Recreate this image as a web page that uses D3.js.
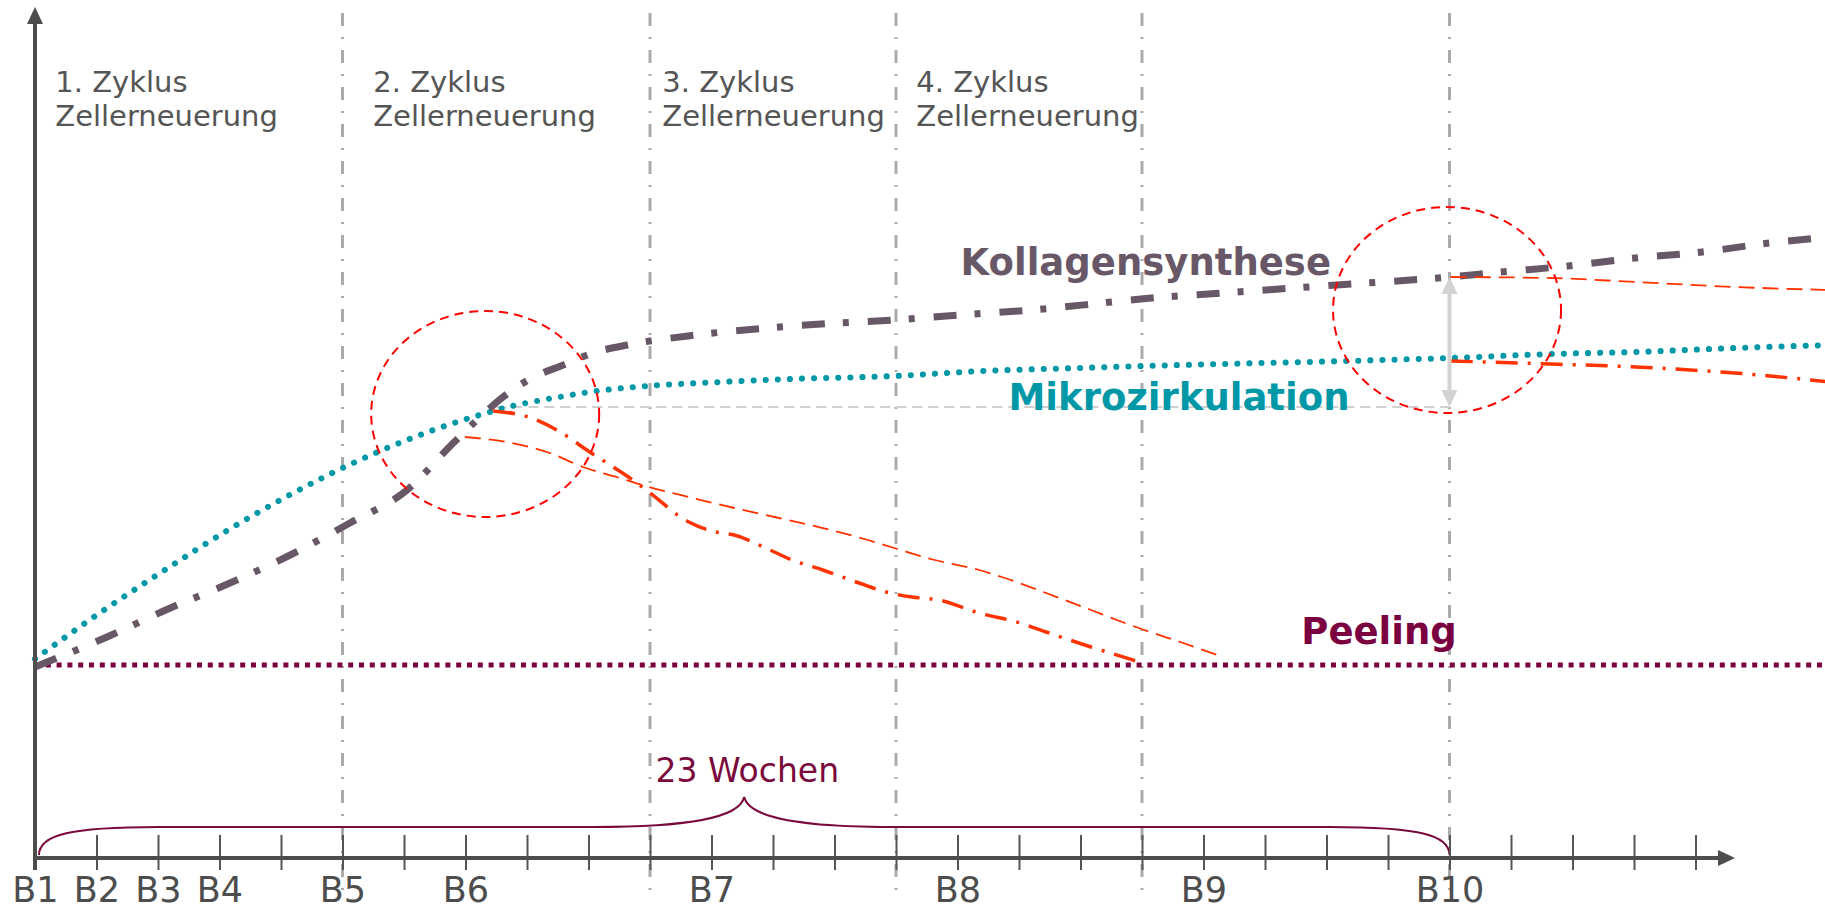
<!DOCTYPE html>
<meta charset="utf-8">

<!-- Load d3.js -->
<script src="https://d3js.org/d3.v7.min.js"></script>

<style>
  body { margin: 0; background: #fff; }
  svg { display: block; font-family: "DejaVu Sans", Verdana, sans-serif; }
</style>

<div id="my_dataviz"></div>

<script>

// x axis: one tick per week, B-labels at the treatment weeks
var tickWeeks = d3.range(0, 28);
var tickLabels = ["B1", "B2", "B3", "B4", "B5", "B6", "B7", "B8", "B9", "B10"];
var tickLabelWeeks = [0, 1, 2, 3, 5, 7, 11, 15, 19, 23];

// cell renewal cycles
var cycleWeeks = [5, 10, 14, 18, 23];
var cycleNames = ["1. Zyklus", "2. Zyklus", "3. Zyklus", "4. Zyklus"];
var cycleNameWeeks = [0.33, 5.5, 10.2, 14.33];

// series as [week, level]
var mikrozirkulation = [
  [0, 1.5], [1.1, 13.5], [2.11, 23.75], [3.14, 33.75], [4.2, 43], [5.28, 51.25],
  [6.39, 58.25], [7.17, 62.25], [7.76, 64.75], [8.34, 66.5], [9.14, 68.5],
  [9.97, 69.75], [11.14, 70.75], [12.29, 71.5], [13.97, 72.25], [15.41, 73.5],
  [16.96, 74.25], [18.02, 74.75], [19.3, 75.25], [21.32, 76], [23.02, 76.75],
  [24.65, 77.75], [26.02, 78.25], [27.64, 79.25], [29.2, 80]
];
var kollagensynthese = [
  [0, -0.5], [1.17, 7], [2.2, 14.25], [3.17, 20.5], [4.15, 27.5], [5.12, 35.5],
  [6.05, 43.75], [6.8, 55.5], [7.24, 62], [7.61, 67], [8.08, 71.75], [8.59, 75],
  [9.07, 78], [9.63, 80], [10.75, 82.5], [11.9, 84.25], [13.07, 85.5],
  [13.97, 86.25], [15.02, 87.5], [16.2, 88.75], [17.35, 90.5], [17.98, 91.5],
  [19.3, 93], [20.47, 94.25], [21.17, 95], [23, 97], [23.84, 98.25],
  [24.93, 99.75], [26.02, 101.75], [27.11, 103.25], [28.2, 105.5], [29.2, 107]
];
var peeling = [[0, 0], [29.2, 0]];

// decline when treatment stops after the 2nd cycle
var stopMikro = [
  [7.45, 63.5], [8.02, 62], [8.54, 58.25], [9.02, 53.25], [9.35, 50], [9.72, 46.25],
  [9.98, 43.25], [10.63, 35.75], [11.07, 33.25], [11.37, 32.5], [11.95, 28.75],
  [12.31, 26.25], [12.81, 23.75], [13.4, 20.5], [13.84, 18.25], [14.26, 17],
  [14.7, 16.25], [15.35, 13], [16.02, 10.5], [16.44, 8.25], [17.17, 4.5],
  [17.9, 1], [18, 0.5]
];
var stopKollagen = [
  [6.99, 57], [7.67, 55.75], [8.37, 53], [8.91, 49.5], [9.46, 47], [9.92, 44.75],
  [10.63, 42], [11.37, 39.25], [12.1, 36.75], [12.81, 34.25], [13.54, 31.25],
  [13.97, 29.25], [14.63, 26.25], [15.35, 23.75], [15.72, 22], [16.44, 18],
  [17.17, 13.75], [17.9, 9.5], [18.62, 5.75], [19.32, 2]
];
// slow decline after B10
var afterKollagen = [[23.02, 97], [24.65, 96.75], [26.02, 95.75], [27.64, 94.5], [29.2, 93.75]];
var afterMikro = [[23.02, 76], [24.65, 75.25], [26.02, 74.5], [27.64, 73], [29.2, 70.75]];

// markers
var plateau = [[7.5, 64.5], [23, 64.5]];
var gainArrow = [23, 64.5, 97];
var focusCircles = [[7.32, 62.75], [22.96, 88.75]];
var braceWeeks = [0, 23];
var braceText = "23 Wochen";

var seriesLabels = ["Kollagensynthese", "Mikrozirkulation", "Peeling"];
var seriesLabelPos = [[15.05, 97.5], [15.83, 63.75], [20.59, 5.25]];


var width = 1825, height = 911;

var svg = d3.select("#my_dataviz")
  .append("svg")
    .attr("width", width)
    .attr("height", height);

var x = d3.scaleLinear().domain([0, 27]).range([35, 1695.5]);
var y = d3.scaleLinear().domain([0, 100]).range([665, 265]);

var line = d3.line()
  .x(function(d) { return x(d[0]); })
  .y(function(d) { return y(d[1]); })
  .curve(d3.curveMonotoneX);

// cycle separators
svg.selectAll(".cycle")
  .data(cycleWeeks)
  .enter()
  .append("line")
    .attr("x1", function(d) { return x(d); })
    .attr("x2", function(d) { return x(d); })
    .attr("y1", 13)
    .attr("y2", 890)
    .attr("stroke", "#aaaaaa")
    .attr("stroke-width", 3)
    .attr("stroke-dasharray", "13,11,2,11");

// cycle names
var cyc = svg.selectAll(".cycname")
  .data(cycleNames)
  .enter()
  .append("text")
    .attr("x", function(d, i) { return x(cycleNameWeeks[i]); })
    .attr("y", 92)
    .attr("font-size", 29)
    .attr("fill", "#555555");
cyc.append("tspan").text(function(d) { return d; });
cyc.append("tspan")
  .attr("x", function(d, i) { return x(cycleNameWeeks[i]); })
  .attr("dy", 34)
  .text("Zellerneuerung");

// level reached after the 2nd cycle
svg.append("path")
  .attr("d", line(plateau))
  .attr("fill", "none")
  .attr("stroke", "#cfcfcf")
  .attr("stroke-width", 2)
  .attr("stroke-dasharray", "10,6");

// Peeling
svg.append("path")
  .attr("d", line(peeling))
  .attr("fill", "none")
  .attr("stroke", "#7b003f")
  .attr("stroke-width", 5)
  .attr("stroke-dasharray", "5,5.8");

// Mikrozirkulation
svg.append("path")
  .attr("d", line(mikrozirkulation))
  .attr("fill", "none")
  .attr("stroke", "#0097a7")
  .attr("stroke-width", 6)
  .attr("stroke-linecap", "round")
  .attr("stroke-dasharray", "0.1,12");

// Kollagensynthese
svg.append("path")
  .attr("d", line(kollagensynthese))
  .attr("fill", "none")
  .attr("stroke", "#685867")
  .attr("stroke-width", 7)
  .attr("stroke-dasharray", "23,18,6,19");

// decline curves
[stopMikro, afterMikro].forEach(function(s) {
  svg.append("path")
    .attr("d", line(s))
    .attr("fill", "none")
    .attr("stroke", "#ff3300")
    .attr("stroke-width", 3.5)
    .attr("stroke-dasharray", "22,10,3,10");
});
[stopKollagen, afterKollagen].forEach(function(s) {
  svg.append("path")
    .attr("d", line(s))
    .attr("fill", "none")
    .attr("stroke", "#ff3300")
    .attr("stroke-width", 1.8)
    .attr("stroke-dasharray", "16,8");
});

// circles
svg.selectAll(".focus")
  .data(focusCircles)
  .enter()
  .append("ellipse")
    .attr("cx", function(d) { return x(d[0]); })
    .attr("cy", function(d) { return y(d[1]); })
    .attr("rx", 114)
    .attr("ry", 103)
    .attr("fill", "none")
    .attr("stroke", "#ff0000")
    .attr("stroke-width", 2)
    .attr("stroke-dasharray", "9,6");

// gain arrow at B10
var ax = x(gainArrow[0]), aLow = y(gainArrow[1]), aHigh = y(gainArrow[2]);
svg.append("line")
  .attr("x1", ax).attr("x2", ax)
  .attr("y1", aHigh + 12).attr("y2", aLow - 12)
  .attr("stroke", "#d3d3d3")
  .attr("stroke-width", 4);
svg.append("path")
  .attr("d", "M" + ax + "," + aHigh + "l-8,17h16z M" + ax + "," + aLow + "l-8,-17h16z")
  .attr("fill", "#d3d3d3");

// series labels
var labelColors = ["#685867", "#0097a7", "#7b003f"];
svg.selectAll(".slabel")
  .data(seriesLabels)
  .enter()
  .append("text")
    .attr("x", function(d, i) { return x(seriesLabelPos[i][0]); })
    .attr("y", function(d, i) { return y(seriesLabelPos[i][1]); })
    .attr("font-size", 37)
    .attr("font-weight", "bold")
    .attr("fill", function(d, i) { return labelColors[i]; })
    .text(function(d) { return d; });

// brace
var b0 = x(braceWeeks[0]) + 4, b1 = x(braceWeeks[1]), bm = (b0 + b1) / 2;
var yb = 855, yl = 827, yt = 797;
svg.append("path")
  .attr("d",
    "M" + b0 + "," + yb +
    "C" + b0 + ",835 " + (b0 + 30) + "," + yl + " " + (b0 + 120) + "," + yl +
    "L" + (bm - 150) + "," + yl +
    "C" + (bm - 60) + "," + yl + " " + (bm - 5) + "," + (yl - 8) + " " + bm + "," + yt +
    "C" + (bm + 5) + "," + (yl - 8) + " " + (bm + 60) + "," + yl + " " + (bm + 150) + "," + yl +
    "L" + (b1 - 120) + "," + yl +
    "C" + (b1 - 30) + "," + yl + " " + b1 + ",835 " + b1 + "," + yb)
  .attr("fill", "none")
  .attr("stroke", "#7a0a3c")
  .attr("stroke-width", 2);
svg.append("text")
  .attr("x", bm + 3)
  .attr("y", 782)
  .attr("text-anchor", "middle")
  .attr("font-size", 33)
  .attr("fill", "#7a0a3c")
  .text(braceText);

// ticks
svg.append("g")
  .attr("transform", "translate(0,835)")
  .call(d3.axisBottom(x).tickValues(tickWeeks).tickSize(35).tickSizeOuter(0).tickFormat(""))
  .call(function(g) { g.select(".domain").remove(); })
  .selectAll("line")
    .attr("stroke", "#555555")
    .attr("stroke-width", 2);

// tick labels
svg.append("g")
  .attr("transform", "translate(0,877)")
  .call(d3.axisBottom(x).tickValues(tickLabelWeeks).tickSize(0).tickPadding(0)
    .tickFormat(function(d, i) { return tickLabels[i]; }))
  .attr("font-family", null)
  .attr("font-size", 35)
  .call(function(g) { g.select(".domain").remove(); })
  .selectAll("text")
    .attr("fill", "#4d4d4d");

// axes with arrows
svg.append("line")
  .attr("x1", x(0)).attr("x2", x(0))
  .attr("y1", 870).attr("y2", 20)
  .attr("stroke", "#4d4d4d")
  .attr("stroke-width", 4);
svg.append("path")
  .attr("d", "M" + x(0) + ",7l-8,17h16z")
  .attr("fill", "#4d4d4d");
svg.append("line")
  .attr("x1", x(0)).attr("x2", 1722)
  .attr("y1", 858).attr("y2", 858)
  .attr("stroke", "#4d4d4d")
  .attr("stroke-width", 4);
svg.append("path")
  .attr("d", "M1735,858l-17,-8v16z")
  .attr("fill", "#4d4d4d");

</script>
